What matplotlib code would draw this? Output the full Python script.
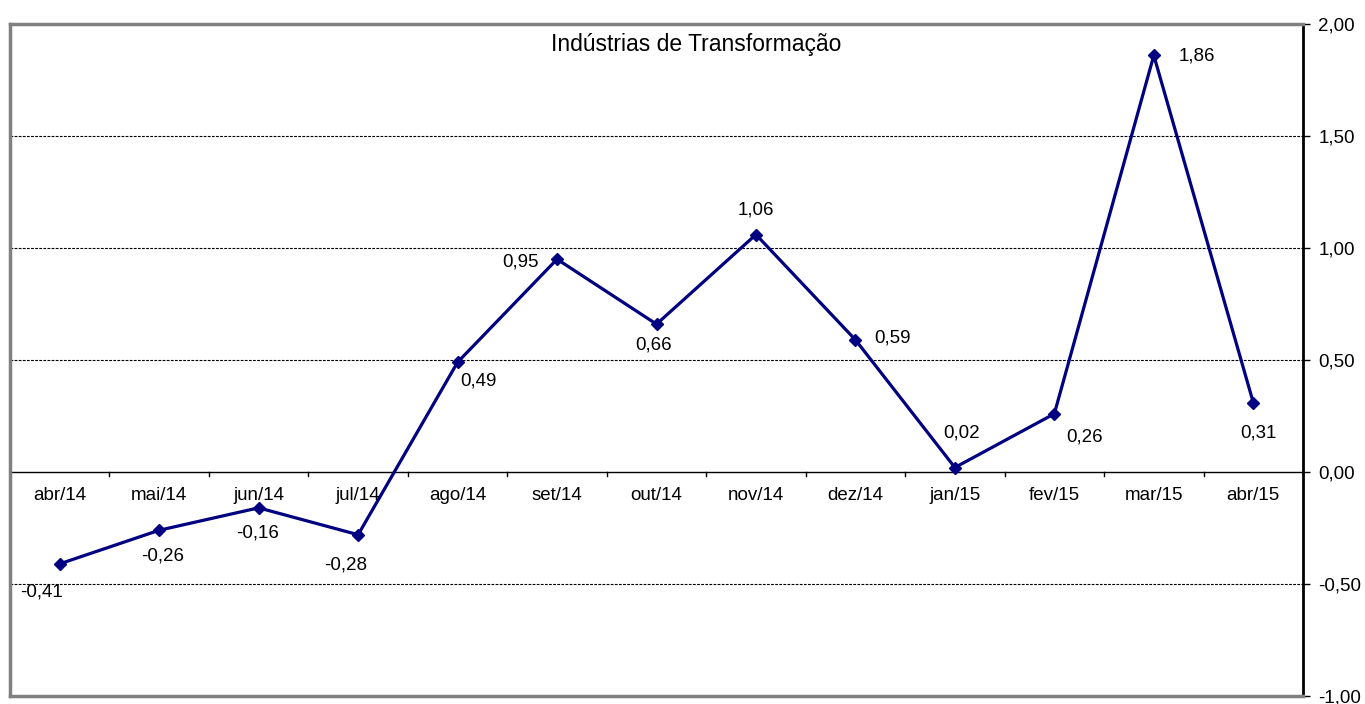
import numpy as np
import matplotlib.pyplot as plt

plt.rcParams['font.family'] = ['Liberation Sans', 'DejaVu Sans']

# dados
meses = ['abr/14', 'mai/14', 'jun/14', 'jul/14', 'ago/14', 'set/14', 'out/14',
         'nov/14', 'dez/14', 'jan/15', 'fev/15', 'mar/15', 'abr/15']
valores = [-0.41, -0.26, -0.16, -0.28, 0.49, 0.95, 0.66, 1.06, 0.59, 0.02, 0.26, 1.86, 0.31]
y_ticks = [-1.0, -0.5, 0.0, 0.5, 1.0, 1.5, 2.0]

# deslocamento dos rótulos (pixels)
desloc = [(-18, -28), (3, -26), (-1, -25), (-12, -30), (21, -19), (-37, -3), (-3, -21),
          (0, 25), (37, 2), (7, 35), (30, -23), (43, -1), (5, -30)]

fig = plt.figure(figsize=(13.65, 7.04), dpi=100)
ax = fig.add_axes([10 / 1365, 8 / 704, 1293 / 1365, 672 / 704])

x = np.arange(len(meses))
ax.plot(x, valores, color='#000080', lw=2.3, marker='D', ms=6.5, zorder=3)

for xi, v, (dx, dy) in zip(x, valores, desloc):
    ax.annotate(f'{v:.2f}'.replace('.', ','), (xi, v), xytext=(dx, dy),
                textcoords='offset pixels', ha='center', va='center', fontsize=13.5)

ax.set_xlim(-0.5, len(meses) - 0.5)
ax.set_ylim(-1, 2)

# grade
for yv in [-0.5, 0.5, 1.0, 1.5]:
    ax.axhline(yv, color='black', lw=0.8, ls=(0, (2.5, 1.2)), zorder=1)
ax.axhline(0, color='black', lw=1, zorder=2)

# eixo x em y=0
ax.set_xticks([])
for b in np.arange(-0.5, len(meses), 1.0):
    ax.plot([b, b], [0, -0.018], color='black', lw=1, zorder=2, clip_on=False)
for xi, m in zip(x, meses):
    ax.text(xi, -0.103, m, ha='center', va='center', fontsize=13.5)

# eixo y à direita
ax.yaxis.tick_right()
ax.set_yticks(y_ticks)
ax.set_yticklabels([f'{t:.2f}'.replace('.', ',') for t in y_ticks], fontsize=13.5)
ax.tick_params(axis='y', direction='out', length=5, width=1, pad=6)

for s in ['left', 'top', 'bottom']:
    ax.spines[s].set_color('#808080')
    ax.spines[s].set_linewidth(2.5)
ax.spines['right'].set_color('black')
ax.spines['right'].set_linewidth(2)

ax.text(0.531, 0.969, 'Indústrias de Transformação', transform=ax.transAxes,
        ha='center', va='center', fontsize=16.5)

fig.savefig('out.png', dpi=100)
